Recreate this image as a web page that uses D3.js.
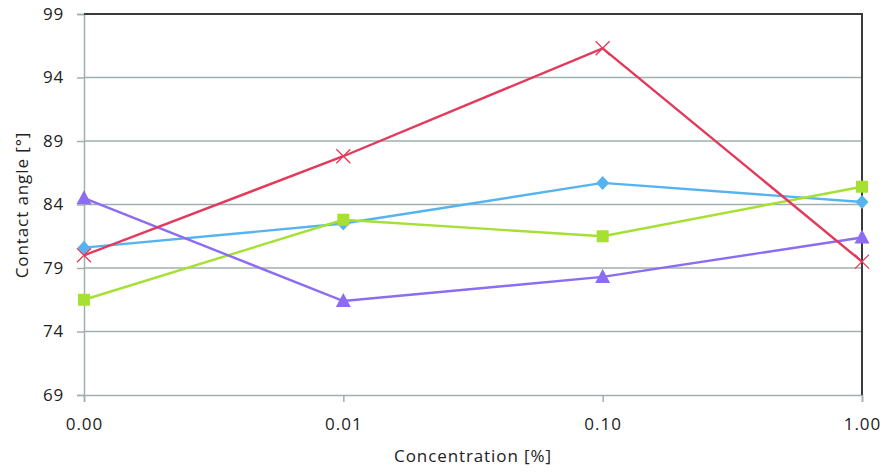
<!DOCTYPE html>
<html><head><meta charset="utf-8">
<script src="https://cdn.jsdelivr.net/npm/d3@7"></script>
<style>body{margin:0;background:#fff}svg{display:block}text{font-family:"Open Sans",sans-serif;fill:#222}</style>
</head><body><svg id="c" width="887" height="473"></svg>
<script>
const categories = ["0.00","0.01","0.10","1.00"];
const yTicks = [69,74,79,84,89,94,99];
const seriesRed = [80.0, 87.8, 96.3, 79.5];
const seriesBlue = [80.6, 82.5, 85.7, 84.2];
const seriesGreen = [76.5, 82.8, 81.5, 85.4];
const seriesPurple = [84.5, 76.4, 78.3, 81.4];
const series = [
  {name:"blue", values:seriesBlue, color:"#55b4ef", marker:"diamond"},
  {name:"green", values:seriesGreen, color:"#a6e033", marker:"square"},
  {name:"purple", values:seriesPurple, color:"#8b6cf2", marker:"triangle"},
  {name:"red", values:seriesRed, color:"#e33a5b", marker:"cross"}
];
const L=84,R=862,T=14,B=395;
const svg=d3.select("#c");
const x=d3.scalePoint().domain(categories).range([L,R]);
const y=d3.scaleLinear().domain([69,99]).range([B,T]);
// gridlines
svg.append("g").selectAll("line").data(yTicks.filter(d=>d!==99&&d!==69)).join("line")
  .attr("x1",L).attr("x2",R).attr("y1",d=>y(d)).attr("y2",d=>y(d))
  .attr("stroke","#9fb0ae").attr("stroke-width",1.5);
// y axis
const ya=svg.append("g").attr("transform",`translate(${L},0)`).call(d3.axisLeft(y).tickValues(yTicks).tickSize(7).tickPadding(13).tickFormat(d3.format("d")));
ya.select(".domain").attr("stroke","#9fb0ae").attr("stroke-width",1.5);
ya.selectAll(".tick line").attr("stroke","#9fb0ae").attr("stroke-width",1.5);
ya.selectAll("text").style("font-size","17px").style("letter-spacing","0.8px").attr("fill","#222");
// x axis
const xa=svg.append("g").attr("transform",`translate(0,${B})`).call(d3.axisBottom(x).tickSize(7).tickPadding(16));
xa.select(".domain").attr("stroke","#9fb0ae").attr("stroke-width",1.5);
xa.selectAll(".tick line").attr("stroke","#9fb0ae").attr("stroke-width",1.5);
xa.selectAll("text").style("font-size","17px").style("letter-spacing","1px").attr("fill","#222");
// top & right border
svg.append("path").attr("d",`M${L},${T}H${R}V${B}`).attr("fill","none").attr("stroke","#3a3a3a").attr("stroke-width",2);
// lines
const line=d3.line().x((d,i)=>x(categories[i])).y(d=>y(d));
series.forEach(s=>{
  svg.append("path").datum(s.values).attr("d",line).attr("fill","none").attr("stroke",s.color).attr("stroke-width",2.4);
});
// markers
series.forEach(s=>{
  const g=svg.append("g");
  s.values.forEach((v,i)=>{
    const cx=x(categories[i]),cy=y(v);
    if(s.marker==="diamond") g.append("path").attr("d",`M${cx},${cy-7}L${cx+6.5},${cy}L${cx},${cy+7}L${cx-6.5},${cy}Z`).attr("fill",s.color);
    else if(s.marker==="square") g.append("rect").attr("x",cx-6).attr("y",cy-6).attr("width",12).attr("height",12).attr("fill",s.color);
    else if(s.marker==="triangle") g.append("path").attr("d",`M${cx},${cy-8}L${cx+7.5},${cy+6}L${cx-7.5},${cy+6}Z`).attr("fill",s.color);
    else g.append("path").attr("d",`M${cx-7},${cy-7}L${cx+7},${cy+7}M${cx-7},${cy+7}L${cx+7},${cy-7}`).attr("stroke",s.color).attr("stroke-width",1.3);
  });
});
// titles
svg.append("text").attr("x",(L+R)/2).attr("y",462).attr("text-anchor","middle").style("font-size","17px").style("letter-spacing","0.9px").text("Concentration [%]");
svg.append("text").attr("transform",`translate(28,205) rotate(-90)`).attr("text-anchor","middle").style("font-size","17px").style("letter-spacing","0.9px").text("Contact angle [°]");
</script></body></html>
